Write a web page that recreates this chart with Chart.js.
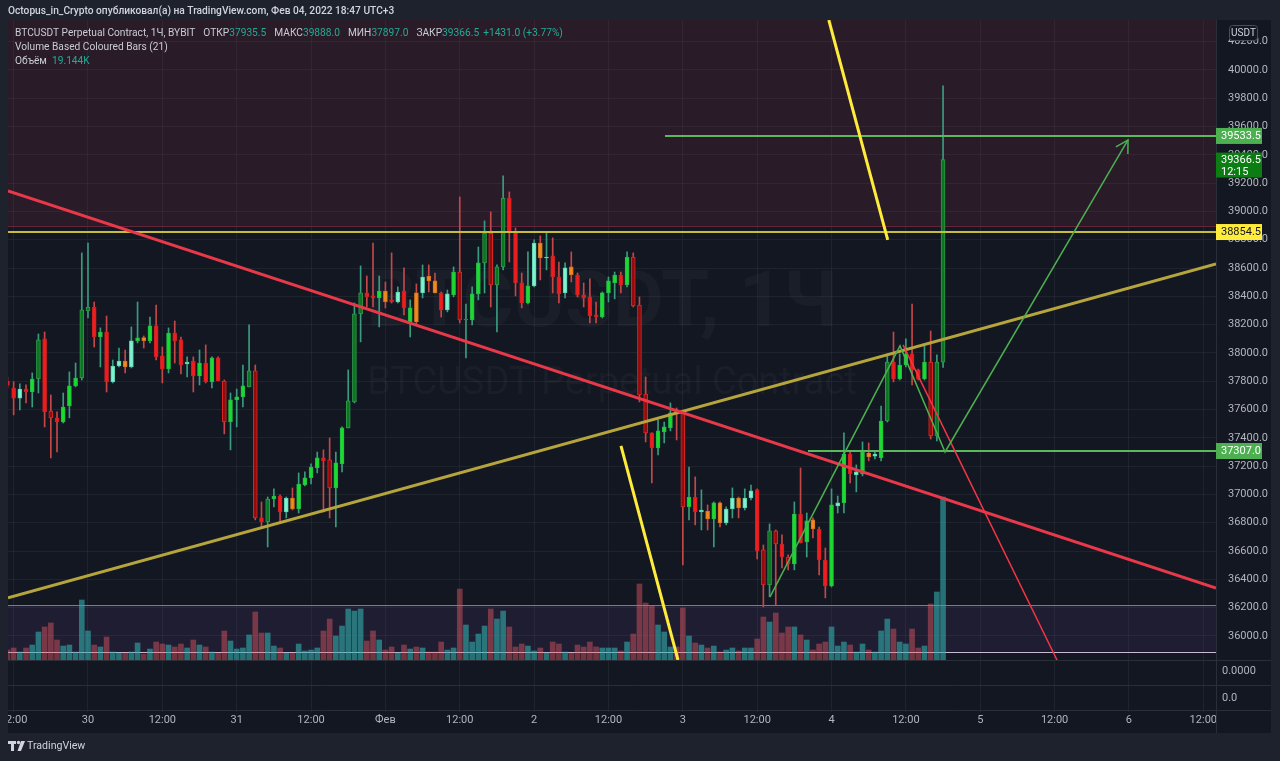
<!DOCTYPE html>
<html><head><meta charset="utf-8">
<script src="https://cdn.jsdelivr.net/npm/chart.js@4.4.1/dist/chart.umd.min.js"></script>
<style>html,body{margin:0;padding:0;background:#1e222d;overflow:hidden}canvas{display:block}</style>
</head><body>
<canvas id="c" width="1280" height="761"></canvas>
<script>
// ---------- DATA (hourly candles, hour 0 = Feb 4 00:00) ----------
const FIRST_HOUR = -133;
const opens = [
37800,37751,37680,37745,37724,37816,38099,37590,37541,37512,
37625,37767,37823,38297,38325,38113,38148,37795,37908,37943,
37901,38085,38108,38085,38191,37979,37887,38141,38092,37922,
37943,37837,37929,37795,37965,37802,37512,37668,37689,37760,
37873,36834,36806,36968,36989,36876,36975,36898,37067,37117,
37187,37258,37244,37046,37216,37470,37654,38276,38424,38403,
38389,38438,38375,38360,38438,38318,38219,38424,38544,38509,
38424,38304,38410,38572,38233,38233,38417,38636,38848,38481,
38608,39095,38855,38495,38353,38474,38777,38671,38686,38537,
38424,38608,38551,38410,38396,38269,38254,38424,38495,38551,
38481,38678,38339,37710,37435,37329,37442,37470,37597,37576,
36912,36982,36876,36883,36827,36940,36799,36897,36975,36904,
36975,37032,36608,36360,36742,36650,36558,36509,36862,36664,
36820,36756,36537,36353,36919,36940,37286,37138,37145,37293,
37270,37258,37519,37936,37816,37915,37993,37880,37816,37936,37413,37935.5];
const highs = [
37830,37797,37781,37774,37859,38134,38148,37703,37583,37717,
37866,37929,38707,38777,38360,38177,38261,37950,38035,38021,
38184,38360,38120,38254,38339,38042,38177,38226,38113,37972,
37972,38021,38057,37972,37972,37809,37717,37745,37915,38198,
37915,36947,36982,37039,36997,36982,37046,37152,37159,37216,
37300,37315,37399,37300,37477,37880,38353,38615,38544,38777,
38544,38502,38707,38467,38601,38375,38488,38622,38622,38565,
38431,38445,38608,39102,38346,38467,38749,38933,38997,38622,
39251,39138,38883,38565,38714,38799,38827,38848,38813,38643,
38636,38714,38565,38495,38523,38360,38431,38537,38572,38572,
38714,38707,38396,37830,37435,37527,37512,37647,37611,37583,
37194,37124,37032,36926,36947,36947,36912,37046,36982,37039,
37067,37039,36643,36792,36749,36714,36573,36947,37187,36869,
36834,36770,36622,37039,36989,37435,37300,37209,37371,37364,
37300,37625,37993,38148,37993,38099,38346,37886,38049,38155,37986,39888];
const lows = [
37753,37562,37597,37647,37618,37717,37477,37258,37300,37505,
37541,37760,37809,38247,38042,37901,37724,37788,37901,37859,
37894,38071,38035,38071,37950,37788,37859,37929,37852,37830,
37724,37774,37788,37753,37802,37428,37315,37477,37618,37760,
36820,36770,36629,36912,36806,36834,36890,36869,37060,37074,
37152,36876,36834,36770,37159,37470,37647,38078,38325,38325,
38184,38318,38353,38353,38269,38113,38205,38389,38431,38424,
38254,38290,38396,38212,37965,38198,38375,38424,38325,38148,
38587,38643,38403,38318,38346,38467,38516,38587,38424,38353,
38389,38502,38396,38325,38212,38212,38247,38360,38382,38424,
38467,38325,37654,37371,37081,37279,37364,37449,37385,36502,
36820,36785,36749,36749,36629,36770,36785,36834,36834,36890,
36961,36544,36205,36276,36219,36481,36467,36467,36657,36558,
36693,36431,36269,36346,36869,36869,37081,37018,37131,37237,
37251,37237,37512,37795,37809,37901,37774,37809,37809,37392,37378,37897];
const closes = [
37770,37680,37745,37724,37816,38092,37583,37541,37512,37618,
37767,37823,38304,38325,38113,38148,37795,37908,37943,37901,
38085,38106,38087,38191,37972,37887,38141,38085,37915,37936,
37837,37929,37795,37965,37802,37512,37668,37689,37767,37873,
36834,36806,36968,36989,36876,36975,36898,37074,37117,37194,
37258,37237,37046,37223,37470,37661,38276,38424,38396,38389,
38438,38360,38360,38431,38318,38219,38424,38537,38509,38424,
38304,38417,38572,38233,38240,38417,38636,38848,38481,38608,
39095,38855,38495,38353,38474,38777,38671,38678,38537,38417,
38601,38551,38410,38389,38262,38254,38424,38509,38551,38481,
38678,38332,37703,37435,37329,37449,37477,37576,37570,36912,
36982,36876,36890,36827,36940,36799,36897,36975,36904,36975,
37025,36601,36360,36742,36650,36558,36509,36862,36657,36813,
36756,36537,36353,36926,36940,37286,37145,37159,37300,37265,
37286,37519,37936,37816,37915,37993,37880,37816,37936,37413,37936,39366.5];
// volume-based bar colour class: G bull, D bull high vol, A bull low vol, R bear, X bear high vol, O bear low vol
const barTypes = (
"RRARGDRXRG"+"GGDDRGRAAO"+"AGOGRRGRRA"+"RGRGRXGGGD"+"XRDGRAOGGG"+
"GRXGGDDDRR"+"GORARGOAOO"+"RAGXDGGDXD"+"DRRRGAOARR"+"AORRRRGGGR"+
"GXXXRGGGOX"+"GRAOGOAAOA"+"ARXDXRXGRG"+"ORRGAGRAGO"+"AGDRGGRRGXDD").split('');
const volumes = [ // thousands
1.17,1.41,0.94,1.41,1.76,3.29,3.88,4.35,2.35,1.64,
1.76,0.94,7.05,3.41,1.76,1.53,2.70,0.94,0.82,0.82,
0.94,2.00,0.70,1.29,2.11,1.88,1.76,1.53,1.88,1.41,
2.35,1.76,1.53,0.94,0.82,3.41,2.23,1.29,1.41,2.94,
5.64,3.17,3.17,1.64,1.41,0.82,0.82,1.88,1.06,1.17,
1.41,3.41,4.81,2.82,3.99,5.99,5.75,5.99,2.23,3.41,
2.35,1.17,1.53,0.82,1.76,1.29,1.53,1.41,0.94,0.94,
2.11,1.17,1.41,8.34,4.11,2.11,3.05,3.99,5.99,4.81,
5.75,3.88,1.53,1.88,1.64,1.06,1.41,0.82,2.11,1.88,
0.94,0.82,1.76,1.53,2.11,1.53,1.41,1.41,1.41,1.06,
2.11,3.05,8.93,6.69,6.34,4.11,3.29,1.53,1.53,6.11,
2.82,2.00,1.76,1.41,1.64,0.94,1.17,1.41,1.06,1.41,
1.41,2.47,5.05,4.46,5.52,3.17,3.88,3.88,2.94,2.35,
1.17,1.88,2.11,3.88,1.64,2.11,1.76,0.94,1.88,1.17,
0.94,3.41,4.81,3.64,2.11,1.88,3.64,1.41,1.64,6.58,7.99,19.144];

const tickHours  = [-132,-120,-108,-96,-84,-72,-60,-48,-36,-24,-12,0,12,24,36,48,60];
const tickLabels = ['12:00','30','12:00','31','12:00','Фев','12:00','2','12:00','3','12:00','4','12:00','5','12:00','6','12:00'];
const priceTicks = [36000,36200,36400,36600,36800,37000,37200,37400,37600,37800,38000,
                    38200,38400,38600,38800,39000,39200,39400,39600,39800,40000,40200];

// visible window (hours) and drawings (hour, price)
const X_MIN = -132.91, X_MAX = 62.05;
const redTrend     = [{x:X_MIN,y:39145},{x:X_MAX,y:36339}];
const oliveTrend   = [{x:X_MIN,y:36269},{x:X_MAX,y:38629}];
const resistance   = [{x:X_MIN,y:38854.5},{x:X_MAX,y:38854.5}];
const targetLine   = [{x:-26.88,y:39533.5},{x:X_MAX,y:39533.5}];
const supportLine  = [{x:-3.80,y:37307},{x:X_MAX,y:37307}];
const yellowTop    = [{x:-0.44,y:40353},{x:9.07,y:38799}];
const yellowBottom = [{x:-33.98,y:37343},{x:-24.78,y:35830}];
const greenPath    = [{x:-9.93,y:36276},{x:11.05,y:38050},{x:18.32,y:37300},{x:47.85,y:39505}];
const redThin      = [{x:11.54,y:38057},{x:36.39,y:35830}];
const redZone      = [38898, 41000];
const volZone      = [35887, 36219];

// ---------- STYLE ----------
const FRAME='#1e222d', PANE='#131722';
const fillC  = {G:'#19dc2c',D:'#0d7424',A:'#7ff3cf',R:'#f01d1d',X:'#8e0e0e',O:'#f18a1e'};
const bordC  = {G:'#26b845',D:'#2f9b48',A:'#5fd2b0',R:'#c92024',X:'#dd2626',O:'#cf741d'};
const bull = t => t==='G'||t==='D'||t==='A';

const hours = opens.map((_,i)=>FIRST_HOUR+i);
const bodyData = hours.map((h,i)=>({x:h,y:[opens[i],closes[i]]}));
const wickData = hours.map((h,i)=>({x:h,y:[lows[i],highs[i]]}));
const volData  = hours.map((h,i)=>({x:h,y:volumes[i]}));
const VOL_MAX = 75.17;

function lineDS(data,color,width,order){
  return {type:'line',data,borderColor:color,borderWidth:width,pointRadius:0,tension:0,fill:false,order,yAxisID:'y'};
}

const tvPlugin = {
  id:'tv',
  beforeDraw(chart){
    const ctx=chart.ctx; ctx.save();
    ctx.fillStyle=FRAME; ctx.fillRect(0,0,1280,761);
    ctx.fillStyle=PANE; ctx.fillRect(8,20,1263,713);
    ctx.restore();
  },
  beforeDatasetsDraw(chart){
    const ctx=chart.ctx, a=chart.chartArea, ys=chart.scales.y;
    ctx.save();
    ctx.beginPath(); ctx.rect(a.left,a.top,a.right-a.left,a.bottom-a.top); ctx.clip();
    // watermark
    ctx.fillStyle='rgba(130,134,146,0.07)'; ctx.textAlign='center'; ctx.textBaseline='middle';
    ctx.font='bold 78px Roboto'; ctx.fillText('BTCUSDT, 1Ч',602,306);
    ctx.font='38px Roboto'; ctx.fillText('BTCUSDT Perpetual Contract',612,384);
    // red zone
    const r1=ys.getPixelForValue(redZone[0]), r2=ys.getPixelForValue(redZone[1]);
    ctx.fillStyle='rgba(160,50,75,0.17)'; ctx.fillRect(a.left,r2,a.right-a.left,r1-r2);
    ctx.strokeStyle='rgba(170,50,80,0.55)'; ctx.lineWidth=1;
    ctx.beginPath(); ctx.moveTo(a.left,Math.round(r1)+0.5); ctx.lineTo(a.right,Math.round(r1)+0.5); ctx.stroke();
    // volume zone
    const v1=ys.getPixelForValue(volZone[0]), v2=ys.getPixelForValue(volZone[1]);
    ctx.fillStyle='rgba(130,90,190,0.10)'; ctx.fillRect(a.left,v2,a.right-a.left,v1-v2);
    ctx.strokeStyle='#8d6fa6'; ctx.beginPath(); ctx.moveTo(a.left,Math.round(v2)+0.5); ctx.lineTo(a.right,Math.round(v2)+0.5); ctx.stroke();
    ctx.strokeStyle='#cdb8d8'; ctx.beginPath(); ctx.moveTo(a.left,Math.round(v1)+0.5); ctx.lineTo(a.right,Math.round(v1)+0.5); ctx.stroke();
    ctx.restore();
  },
  afterDatasetsDraw(chart){
    // arrow head at the end of the green path
    const ctx=chart.ctx, xs=chart.scales.x, ys=chart.scales.y;
    const p1=greenPath[greenPath.length-2], p2=greenPath[greenPath.length-1];
    const x1=xs.getPixelForValue(p1.x), y1=ys.getPixelForValue(p1.y);
    const x2=xs.getPixelForValue(p2.x), y2=ys.getPixelForValue(p2.y);
    const ang=Math.atan2(y1-y2,x1-x2), L=14;
    ctx.save(); ctx.strokeStyle='#4caf50'; ctx.lineWidth=1.5; ctx.beginPath();
    ctx.moveTo(x2+L*Math.cos(ang+0.52),y2+L*Math.sin(ang+0.52)); ctx.lineTo(x2,y2);
    ctx.lineTo(x2+L*Math.cos(ang-0.52),y2+L*Math.sin(ang-0.52)); ctx.stroke(); ctx.restore();
  },
  afterDraw(chart){
    const ctx=chart.ctx, ys=chart.scales.y;
    ctx.save();
    ctx.fillStyle=FRAME; ctx.fillRect(0,20,8,713);
    // pane separators
    ctx.strokeStyle='#2a2e39'; ctx.lineWidth=1;
    [660.5,685.5,710.5].forEach(yy=>{ctx.beginPath();ctx.moveTo(8,yy);ctx.lineTo(1271,yy);ctx.stroke();});
    ctx.beginPath(); ctx.moveTo(1216.5,660); ctx.lineTo(1216.5,733); ctx.stroke();
    ctx.font='11px Roboto'; ctx.fillStyle='#b2b5be'; ctx.textBaseline='middle'; ctx.textAlign='left';
    ctx.fillText('0.0000',1222,671); ctx.fillText('0.0',1222,698);
    // header
    ctx.font='500 10.2px Roboto'; ctx.fillStyle='#d1d4dc';
    ctx.fillText('Octopus_in_Crypto опубликовал(а) на TradingView.com, Фев 04, 2022 18:47 UTC+3',8,11);
    // legend
    const n=opens.length-1, o=opens[n], hi=highs[n], lo=lows[n], cl=closes[n];
    const ch=cl-o, pct=ch/o*100;
    const G='#22ab94', T='#c9ccd3';
    let x=15; ctx.font='10.2px Roboto';
    const seg=(t,c,gap)=>{ctx.fillStyle=c; ctx.fillText(t,x,33); x+=ctx.measureText(t).width+(gap||0);};
    seg('BTCUSDT Perpetual Contract, 1Ч, BYBIT',T,8);
    seg('ОТКР',T,0); seg(o.toFixed(1),G,8);
    seg('МАКС',T,0); seg(hi.toFixed(1),G,8);
    seg('МИН',T,0); seg(lo.toFixed(1),G,8);
    seg('ЗАКР',T,0); seg(cl.toFixed(1),G,4);
    seg((ch>=0?'+':'')+ch.toFixed(1)+' ('+(ch>=0?'+':'')+pct.toFixed(2)+'%)',G,0);
    ctx.fillStyle=T; ctx.fillText('Volume Based Coloured Bars (21)',15,47);
    ctx.fillText('Объём',15,61); ctx.fillStyle=G; ctx.fillText(volumes[n].toFixed(3)+'K',52,61);
    // price axis markers
    const box=(val,bg,fg,lines)=>{
      const py=ys.getPixelForValue(val); const h=lines.length>1?25:16; const top=lines.length>1?py-7:py-8;
      ctx.fillStyle=bg; ctx.fillRect(1216,top,46,h);
      ctx.fillStyle=fg; ctx.font='11px Roboto';
      lines.forEach((t,i)=>ctx.fillText(t,1221,top+8+i*12));
    };
    box(targetLine[0].y,'#4caf50','#ffffff',[targetLine[0].y.toFixed(1)]);
    box(cl,'#0b7d12','#ffffff',[cl.toFixed(1),'12:15']);
    box(resistance[0].y,'#ffeb3b','#131722',[resistance[0].y.toFixed(1)]);
    box(supportLine[0].y,'#4caf50','#ffffff',[supportLine[0].y.toFixed(1)]);
    // USDT badge
    ctx.fillStyle=PANE; ctx.strokeStyle='#4a4e59';
    ctx.beginPath(); ctx.roundRect(1229.5,25.5,28,15,3); ctx.fill(); ctx.stroke();
    ctx.fillStyle='#d1d4dc'; ctx.font='10px Roboto'; ctx.textAlign='center'; ctx.fillText('USDT',1243.5,33.5);
    // footer logo
    ctx.fillStyle='#d1d4dc';
    ctx.fillRect(8,741,8,3); ctx.fillRect(11,741,3,10);
    ctx.beginPath(); ctx.arc(18.5,742.5,1.7,0,Math.PI*2); ctx.fill();
    ctx.beginPath(); ctx.moveTo(21,741); ctx.lineTo(25,741); ctx.lineTo(21,751); ctx.lineTo(17.5,751); ctx.closePath(); ctx.fill();
    ctx.textAlign='left'; ctx.font='10.6px Roboto'; ctx.fillText('TradingView',27,746.5);
    ctx.restore();
  }
};

new Chart(document.getElementById('c'), {
  type:'bar',
  data:{datasets:[
    lineDS(greenPath,'#4caf50',1.5,1),
    lineDS(redThin,'#f23645',1.5,1),
    lineDS(yellowTop,'#ffeb3b',3,1),
    lineDS(yellowBottom,'#ffeb3b',3,1),
    lineDS(redTrend,'#e8394a',3,2),
    lineDS(oliveTrend,'#b5a53c',3,2),
    lineDS(resistance,'#c8bd3a',2,3),
    lineDS(targetLine,'#5cb85c',2,3),
    lineDS(supportLine,'#5cb85c',2,3),
    {type:'bar',data:bodyData,yAxisID:'y',grouped:false,barThickness:4,minBarLength:1,borderWidth:1,borderSkipped:false,
     backgroundColor:barTypes.map(t=>fillC[t]),borderColor:barTypes.map(t=>bordC[t]),order:5},
    {type:'bar',data:wickData,yAxisID:'y',grouped:false,barThickness:1,borderWidth:0,
     backgroundColor:barTypes.map(t=>bull(t)?'#3a9c7e':'#c44848'),order:6},
    {type:'bar',data:volData,yAxisID:'yv',grouped:false,barThickness:5,borderWidth:0,
     backgroundColor:barTypes.map(t=>bull(t)?'rgba(50,170,170,0.62)':'rgba(230,90,100,0.45)'),order:7}
  ]},
  options:{
    responsive:false, animation:false, events:[],
    layout:{padding:{left:8,top:20,right:0,bottom:28},autoPadding:false},
    plugins:{legend:{display:false},tooltip:{enabled:false}},
    scales:{
      x:{type:'linear',min:X_MIN,max:X_MAX,offset:false,
         grid:{color:'rgba(42,46,57,0.55)',drawTicks:true,tickLength:52,offset:false},border:{display:false},
         afterBuildTicks:s=>{s.ticks=tickHours.map(v=>({value:v}));},
         afterFit:s=>{s.height=73; s.paddingLeft=0; s.paddingRight=0;},
         ticks:{color:'#b2b5be',font:{size:11,family:'Roboto'},padding:2,maxRotation:0,autoSkip:false,
                callback:v=>{const i=tickHours.indexOf(v);return i>=0?tickLabels[i]:'';}}},
      y:{type:'linear',position:'right',min:35830,max:40353,
         grid:{color:'rgba(42,46,57,0.55)',drawTicks:false},border:{display:true,color:'#2a2e39'},
         afterBuildTicks:s=>{s.ticks=priceTicks.map(v=>({value:v}));},
         afterFit:s=>{s.width=64; s.paddingTop=0; s.paddingBottom=0;},
         ticks:{color:'#b2b5be',font:{size:11,family:'Roboto'},padding:12,crossAlign:'near',callback:v=>Number(v).toFixed(1)}},
      yv:{type:'linear',display:false,min:0,max:VOL_MAX}
    }
  },
  plugins:[tvPlugin]
});
</script>
</body></html>
